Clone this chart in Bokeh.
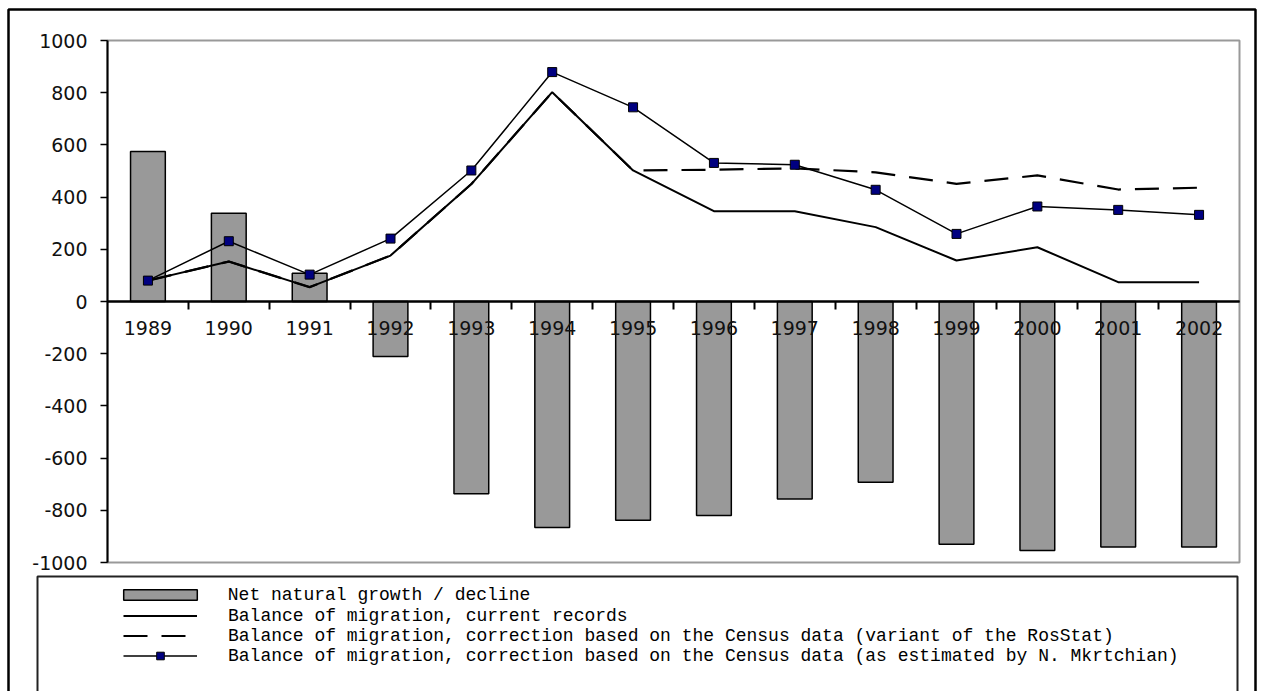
from bokeh.plotting import figure
from bokeh.models import (FixedTicker, Range1d, BoxAnnotation, Legend, LegendItem,
                          ColumnDataSource, LinearAxis)
from bokeh.embed import file_html
from bokeh.resources import INLINE

years = ["1989", "1990", "1991", "1992", "1993", "1994", "1995",
         "1996", "1997", "1998", "1999", "2000", "2001", "2002"]
natural_growth = [575, 338, 108, -211, -737, -866, -838, -820, -757, -693, -930, -954, -941, -941]
migration_current = [80, 153, 55, 176, 450, 802, 502, 346, 346, 285, 157, 208, 74, 74]
migration_rosstat = [80, 153, 55, 176, 450, 802, 502, 505, 510, 495, 451, 483, 429, 436]
migration_mkrtchian = [80, 231, 103, 241, 502, 879, 744, 531, 524, 428, 259, 364, 351, 332]
y_ticks = [-1000, -800, -600, -400, -200, 0, 200, 400, 600, 800, 1000]

labels = [
    "Net natural growth / decline",
    "Balance of migration, current records",
    "Balance of migration, correction based on the Census data (variant of the RosStat)",
    "Balance of migration, correction based on the Census data (as estimated by N. Mkrtchian)",
]

W, H = 1261, 691
PL, PR, PT, PB = 107, 1239, 40, 562
n = len(years)
y_lo, y_hi = y_ticks[0], y_ticks[-1]
sx = (PR - PL) / n
sy = (PB - PT) / (y_hi - y_lo)
x_range = Range1d(-PL / sx, n + (W - PR) / sx)
y_range = Range1d(y_lo - (H - PB) / sy, y_hi + PT / sy)

xpos = [i + 0.5 for i in range(n)]
bounds_x = [float(b) for b in range(1, n)]
src = ColumnDataSource(dict(x=xpos, year=years, nat=natural_growth, cur=migration_current,
                            ros=migration_rosstat, mkr=migration_mkrtchian))

p = figure(width=W, height=H, min_border=0, x_range=x_range, y_range=y_range,
           x_axis_location=None, y_axis_location=None,
           output_backend="svg", toolbar_location=None)
p.background_fill_color = "white"
p.border_fill_color = "white"
p.outline_line_color = None
p.xgrid.visible = False
p.ygrid.visible = False

# grey plot-area outline
p.add_layout(BoxAnnotation(left=0, right=n, bottom=y_lo, top=y_hi, fill_alpha=0,
                           line_color="#999999", line_alpha=1, line_width=2, level="underlay"))

bars = p.vbar(x="x", top="nat", width=0.43, source=src, fill_color="#999999",
              line_color="black", line_width=1.5)
l_cur = p.line("x", "cur", source=src, line_color="black", line_width=2)
l_ros = p.line("x", "ros", source=src, line_color="black", line_width=2.2, line_dash="24 14")
l_mkr = p.line("x", "mkr", source=src, line_color="black", line_width=1.5)
s_mkr = p.scatter("x", "mkr", source=src, marker="square", size=9,
                  fill_color="#000080", line_color="black", line_width=1)

# x axis at zero: year labels at the category centres
xa = LinearAxis(fixed_location=0, bounds=(0, n))
xa.ticker = FixedTicker(ticks=xpos)
xa.major_label_overrides = {x: y for x, y in zip(xpos, years)}
xa.major_tick_line_color = None
xa.minor_tick_line_color = None
xa.major_tick_out = 0
xa.major_tick_in = 0
xa.axis_line_color = "black"
xa.axis_line_width = 2
xa.major_label_standoff = 19
xa.major_label_text_font = "DejaVu Sans"
xa.major_label_text_font_size = "19px"
xa.major_label_text_color = "#111111"
p.add_layout(xa, "below")

# tick marks at the category boundaries (labels invisible), with its own axis line
xt = LinearAxis(fixed_location=0, bounds=(0, n))
xt.ticker = FixedTicker(ticks=bounds_x)
xt.major_label_text_alpha = 0
xt.major_label_text_font_size = "1px"
xt.major_tick_line_color = "black"
xt.major_tick_line_width = 2
xt.major_tick_out = 8
xt.major_tick_in = 0
xt.minor_tick_line_color = None
xt.axis_line_color = "black"
xt.axis_line_width = 2
p.add_layout(xt, "below")

ya = LinearAxis(fixed_location=0, bounds=(y_lo, y_hi))
ya.ticker = FixedTicker(ticks=y_ticks)
ya.major_label_overrides = {t: str(t) for t in y_ticks}
ya.minor_tick_line_color = None
ya.major_tick_out = 7
ya.major_tick_in = 0
ya.major_tick_line_color = "black"
ya.major_tick_line_width = 1.5
ya.axis_line_color = "black"
ya.axis_line_width = 2
ya.major_label_standoff = 13
ya.major_label_text_font = "DejaVu Sans"
ya.major_label_text_font_size = "19px"
ya.major_label_text_color = "#111111"
p.add_layout(ya, "left")

# outer frame and legend box
p.add_layout(BoxAnnotation(left=8, right=1255, top=9, bottom=740,
                           left_units="canvas", right_units="canvas",
                           top_units="canvas", bottom_units="canvas",
                           fill_alpha=0, line_color="black", line_alpha=1,
                           line_width=2.5, level="overlay"))
p.add_layout(BoxAnnotation(left=37, right=1237, top=576, bottom=740,
                           left_units="canvas", right_units="canvas",
                           top_units="canvas", bottom_units="canvas",
                           fill_alpha=0, line_color="#222222", line_alpha=1,
                           line_width=2, level="overlay"))

common = dict(border_line_alpha=0, background_fill_alpha=0, padding=0, margin=0, spacing=0,
              label_text_font="Liberation Mono", label_text_font_size="18px",
              label_text_color="black")
leg1 = Legend(items=[LegendItem(label=labels[0], renderers=[bars])],
              location=(113.8, 86.5), glyph_width=92, glyph_height=13, label_height=13,
              label_standoff=22, **common)
leg2 = Legend(items=[LegendItem(label=labels[1], renderers=[l_cur]),
                     LegendItem(label=labels[2], renderers=[l_ros]),
                     LegendItem(label=labels[3], renderers=[l_mkr, s_mkr])],
              location=(123, 25.5), glyph_width=74, glyph_height=19, label_height=19,
              label_standoff=31, **common)
p.add_layout(leg1)
p.add_layout(leg2)

open("out.html", "w").write(file_html(p, INLINE))
